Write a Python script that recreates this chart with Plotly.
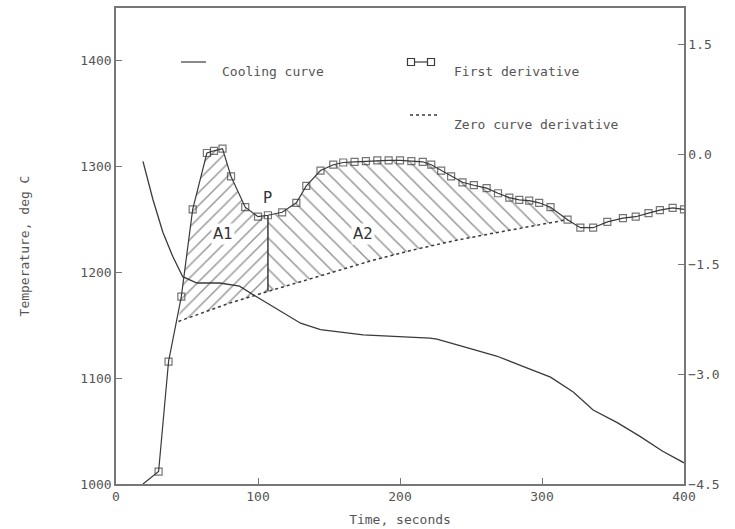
import plotly.graph_objects as go

# Cooling curve (left axis, deg C)
cool_t = [19, 26, 33, 40, 47, 57, 73, 87, 99, 115, 130, 144, 174, 221, 226, 244, 268, 287, 306, 322, 336, 353, 369, 385, 400]
cool_T = [1305, 1269, 1238, 1215, 1196, 1190, 1190, 1187, 1177, 1164, 1152, 1146, 1141, 1138, 1137, 1130, 1121, 1111, 1101, 1087, 1070, 1058, 1045, 1031, 1020]

# First derivative (right axis)
der_t = [19, 30, 37, 46, 54, 64, 69, 75, 81, 91, 100, 107, 117, 127, 134, 144, 153, 160, 168, 176, 184, 192, 200, 208, 216, 222,
         229, 236, 244, 252, 261, 269, 277, 284, 291, 298, 306, 318, 327, 336, 346, 357, 366, 375, 383, 392, 400]
der_v = [-4.5, -4.33, -2.83, -1.94, -0.75, 0.02, 0.05, 0.08, -0.30, -0.72, -0.85, -0.83, -0.79, -0.66, -0.43, -0.22, -0.14, -0.11,
         -0.10, -0.09, -0.08, -0.08, -0.08, -0.09, -0.10, -0.14, -0.22, -0.30, -0.38, -0.42, -0.46, -0.53, -0.59, -0.62, -0.63,
         -0.66, -0.72, -0.89, -1.0, -1.0, -0.92, -0.87, -0.85, -0.80, -0.76, -0.73, -0.75]

# Zero curve derivative (right axis)
zero_t = [44, 60, 80, 107, 130, 151, 180, 210, 240, 270, 300, 318]
zero_v = [-2.28, -2.17, -2.03, -1.87, -1.74, -1.62, -1.45, -1.30, -1.17, -1.06, -0.96, -0.89]

P_T = 107
END_T = 318

x_ticks = [0, 100, 200, 300, 400]
left_ticks = [1000, 1100, 1200, 1300, 1400]
right_ticks = [-4.5, -3.0, -1.5, 0.0, 1.5]

LINE = "#3a3a3a"
HATCH = "#2e2e2e"
TXT = "#555555"
FONT = "DejaVu Sans Mono"

fig = go.Figure()

# Area A1
z1 = [(t, v) for t, v in zip(zero_t, zero_v) if t <= P_T]
d1 = [(t, v) for t, v in zip(der_t, der_v) if 44 <= t <= P_T]
fig.add_trace(go.Scatter(x=[p[0] for p in z1], y=[p[1] for p in z1], yaxis="y2", mode="lines",
                         line=dict(width=0), showlegend=False, hoverinfo="skip"))
fig.add_trace(go.Scatter(x=[p[0] for p in d1], y=[p[1] for p in d1], yaxis="y2", mode="lines",
                         line=dict(width=0), fill="tonexty", fillcolor="rgba(0,0,0,0)",
                         fillpattern=dict(shape="/", fgcolor=HATCH, bgcolor="rgba(255,255,255,0)", size=9, solidity=0.16),
                         showlegend=False, hoverinfo="skip"))

# Area A2
z2 = [(t, v) for t, v in zip(zero_t, zero_v) if P_T <= t <= END_T]
d2 = [(t, v) for t, v in zip(der_t, der_v) if P_T <= t <= END_T]
fig.add_trace(go.Scatter(x=[p[0] for p in z2], y=[p[1] for p in z2], yaxis="y2", mode="lines",
                         line=dict(width=0), showlegend=False, hoverinfo="skip"))
fig.add_trace(go.Scatter(x=[p[0] for p in d2], y=[p[1] for p in d2], yaxis="y2", mode="lines",
                         line=dict(width=0), fill="tonexty", fillcolor="rgba(0,0,0,0)",
                         fillpattern=dict(shape="\\", fgcolor=HATCH, bgcolor="rgba(255,255,255,0)", size=11, solidity=0.14),
                         showlegend=False, hoverinfo="skip"))

# Vertical line at P
p_zero = zero_v[zero_t.index(P_T)]
p_der = der_v[der_t.index(P_T)]
fig.add_trace(go.Scatter(x=[P_T, P_T], y=[p_zero, p_der], yaxis="y2", mode="lines",
                         line=dict(color=LINE, width=1.5), showlegend=False, hoverinfo="skip"))

# Zero curve derivative (dotted)
fig.add_trace(go.Scatter(x=zero_t, y=zero_v, yaxis="y2", mode="lines",
                         line=dict(color=LINE, width=1.5, dash="dot"), name="Zero curve derivative", showlegend=False))

# First derivative
msize = [0] + [7] * (len(der_t) - 1)
fig.add_trace(go.Scatter(x=der_t, y=der_v, yaxis="y2", mode="lines+markers",
                         line=dict(color=LINE, width=1.2),
                         marker=dict(symbol="square-open", size=msize, color=LINE, line=dict(width=1.2)),
                         name="First derivative", showlegend=False))

# Cooling curve
fig.add_trace(go.Scatter(x=cool_t, y=cool_T, yaxis="y", mode="lines",
                         line=dict(color=LINE, width=1.3), name="Cooling curve", showlegend=False))

# Region labels
for txt, xx, yy in [("A1", 75, -1.09), ("P", 107, -0.60), ("A2", 174, -1.09)]:
    fig.add_annotation(x=xx, y=yy, xref="x", yref="y2", text=txt, showarrow=False,
                       font=dict(family="DejaVu Sans", size=15, color="#333333"),
                       bgcolor="white" if txt != "P" else "rgba(0,0,0,0)")

# Manual legend
def px(x):
    return (x - 116) / 568

def py(y):
    return (484 - y) / 476

fig.add_shape(type="line", xref="paper", yref="paper", x0=px(181), x1=px(206), y0=py(62), y1=py(62),
              line=dict(color=LINE, width=1.2))
fig.add_annotation(xref="paper", yref="paper", x=px(220), y=py(62), text="Cooling curve", showarrow=False,
                   xanchor="left", font=dict(family=FONT, size=13, color=TXT))
fig.add_shape(type="line", xref="paper", yref="paper", x0=px(411), x1=px(431), y0=py(62), y1=py(62),
              line=dict(color=LINE, width=1.2))
for cx in (411, 431):
    fig.add_shape(type="rect", xref="paper", yref="paper", x0=px(cx - 3.5), x1=px(cx + 3.5),
                  y0=py(65.5), y1=py(58.5), line=dict(color=LINE, width=1.2), fillcolor="white")
fig.add_annotation(xref="paper", yref="paper", x=px(452), y=py(62), text="First derivative", showarrow=False,
                   xanchor="left", font=dict(family=FONT, size=13, color=TXT))
fig.add_shape(type="line", xref="paper", yref="paper", x0=px(410), x1=px(437), y0=py(115), y1=py(115),
              line=dict(color=LINE, width=1.5, dash="dot"))
fig.add_annotation(xref="paper", yref="paper", x=px(452), y=py(115), text="Zero curve derivative", showarrow=False,
                   xanchor="left", font=dict(family=FONT, size=13, color=TXT))

axis_common = dict(showgrid=False, zeroline=False, showline=True, linecolor="#777777", linewidth=1.5,
                   ticks="inside", ticklen=6, tickcolor="#777777", automargin=False,
                   tickfont=dict(family=FONT, size=13, color=TXT))

fig.update_layout(
    width=735, height=529,
    margin=dict(l=116, r=51, t=8, b=45),
    paper_bgcolor="white", plot_bgcolor="white",
    showlegend=False,
    xaxis=dict(range=[0, 400], tickvals=x_ticks, mirror=True,
               title=dict(text="Time, seconds", font=dict(family=FONT, size=13, color=TXT), standoff=12),
               **axis_common),
    yaxis=dict(range=[1000, 1450], tickvals=left_ticks,
               title=dict(text="Temperature, deg C", font=dict(family=FONT, size=13, color=TXT), standoff=48),
               **axis_common),
    yaxis2=dict(range=[-4.5, 2.0], tickvals=right_ticks, tickformat=".1f", overlaying="y", side="right",
                **axis_common),
)

fig.write_html("out.html")
